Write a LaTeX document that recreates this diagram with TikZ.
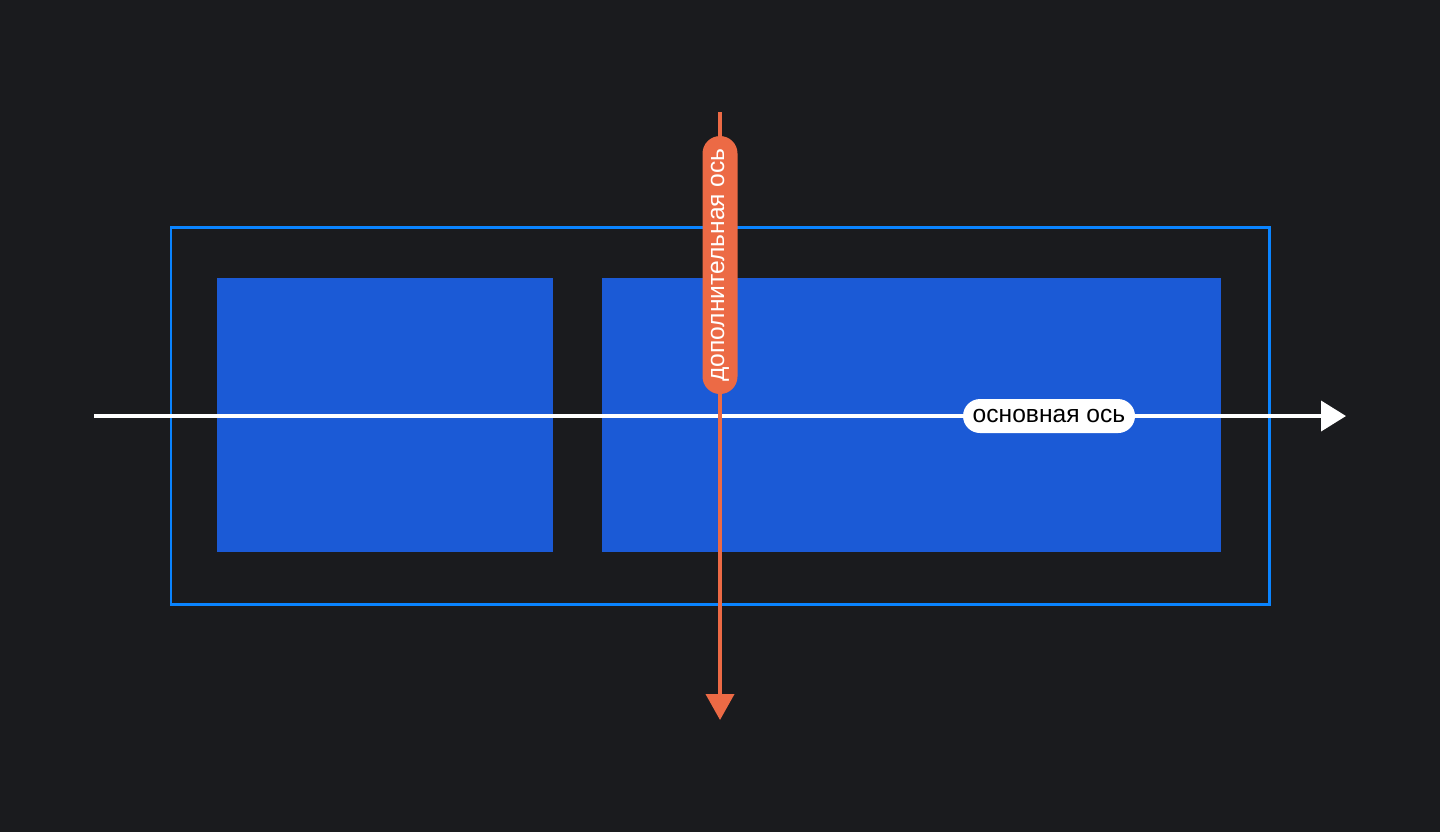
\documentclass[tikz,border=0pt]{standalone}
\usepackage{fontspec}
\setmainfont{Liberation Sans}
\usetikzlibrary{arrows.meta,shapes.misc}
\definecolor{pagebg}{HTML}{1A1B1E}
\definecolor{frameblue}{HTML}{0A84FF}
\definecolor{itemblue}{HTML}{1B5AD6}
\definecolor{crossorange}{HTML}{EC6A45}

\begin{document}
\begin{tikzpicture}[
  x=0.1mm,
  y=-0.1mm,
  every node/.style={font=\fontsize{7}{8.4}\selectfont, inner sep=0pt},
  container/.style={frameblue, line width=0.85pt},
  item/.style={fill=itemblue},
  mainaxis/.style={white, line width=1.1pt, -{Triangle[length=0.25cm, width=0.30cm]}},
  crossaxis/.style={crossorange, line width=1.1pt, -{Triangle[length=0.26cm, width=0.28cm]}},
  pill/.style={rounded rectangle, minimum height=0.34cm}
]
  % ---- page --------------------------------------------------------------
  \fill[pagebg] (0,0) rectangle (1440,832);

  % ---- the flex container and its two items ------------------------------
  \draw[container] (171,227) rectangle (1269,604);
  \fill[item] (217,278) rectangle (553,552);
  \fill[item] (602,278) rectangle (1221,552);

  % ---- main axis ---------------------------------------------------------
  \coordinate (mainstart) at (94,416);
  \coordinate (mainend) at (1346,416);
  \draw[mainaxis] (mainstart) -- (mainend);
  \node[pill, fill=white, text=black, minimum width=1.72cm]
    (mainlabel) at (1049,416) {основная ось};

  % ---- cross axis --------------------------------------------------------
  \coordinate (crossstart) at (720,112);
  \coordinate (crossend) at (720,720);
  \draw[crossaxis] (crossstart) -- (crossend);
  \node[pill, fill=crossorange, text=white, rotate=90, minimum width=2.58cm,
    minimum height=0.35cm] (crosslabel) at (720,265) {дополнительная ось};
\end{tikzpicture}
\end{document}
